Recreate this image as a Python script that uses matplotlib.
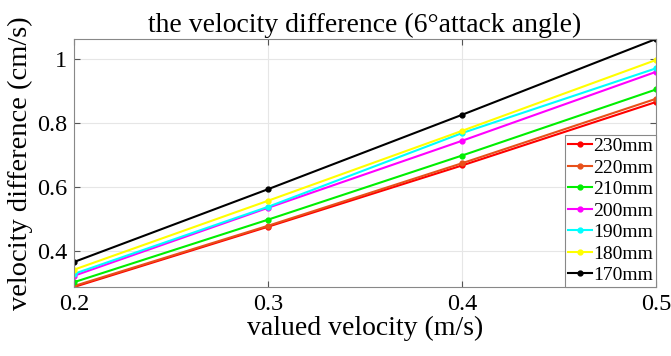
import matplotlib
matplotlib.use("Agg")
import matplotlib.pyplot as plt

plt.rcParams['font.family'] = ['Liberation Serif', 'DejaVu Serif']

velocity = [0.2, 0.3, 0.4, 0.5]
labels = ["230mm", "220mm", "210mm", "200mm", "190mm", "180mm", "170mm"]
colors = ["#ff0000", "#e8501a", "#00ee00", "#ff00ff", "#00ffff", "#ffff00", "#000000"]
diff_230 = [0.289, 0.477, 0.668, 0.866]
diff_220 = [0.292, 0.480, 0.675, 0.876]
diff_210 = [0.304, 0.499, 0.699, 0.905]
diff_200 = [0.324, 0.536, 0.745, 0.960]
diff_190 = [0.330, 0.539, 0.769, 0.971]
diff_180 = [0.343, 0.558, 0.776, 0.997]
diff_170 = [0.367, 0.594, 0.826, 1.0625]
series = [diff_230, diff_220, diff_210, diff_200, diff_190, diff_180, diff_170]

fig = plt.figure(figsize=(6.71, 3.56), dpi=100)
ax = fig.add_axes([74/671, 1 - 287/356, (656-74)/671, (287-39)/356])

for vals, lab, col in zip(series, labels, colors):
    ax.plot(velocity, vals, color=col, marker='o', markersize=3.5, linewidth=1.5, label=lab)

ax.set_xlim(0.2, 0.5)
ax.set_ylim(0.289, 1.0625)
ax.set_xticks([0.2, 0.3, 0.4, 0.5])
ax.set_xticklabels(["0.2", "0.3", "0.4", "0.5"])
ax.set_yticks([0.4, 0.6, 0.8, 1.0])
ax.set_yticklabels(["0.4", "0.6", "0.8", "1"])
ax.grid(True, color="#e6e6e6", linewidth=0.8)
ax.tick_params(direction='in', top=True, right=True, labelsize=17.5, length=4,
               color="#555555", pad=5)
for s in ax.spines.values():
    s.set_color("#888888")
    s.set_linewidth(0.8)

ax.set_xlabel("valued velocity (m/s)", fontsize=20, labelpad=1)
ax.set_ylabel("velocity difference (cm/s)", fontsize=20.5, labelpad=3)
ax.set_title("the velocity difference (6°attack angle)", fontsize=20, pad=5)

leg = ax.legend(loc='lower right', fontsize=14, borderaxespad=0, handlelength=1.2,
                handletextpad=0.08, labelspacing=0.2, borderpad=0.15, fancybox=False,
                framealpha=1)
leg.get_frame().set_edgecolor("#888888")
leg.get_frame().set_linewidth(0.8)

plt.savefig("out.png", dpi=100)
